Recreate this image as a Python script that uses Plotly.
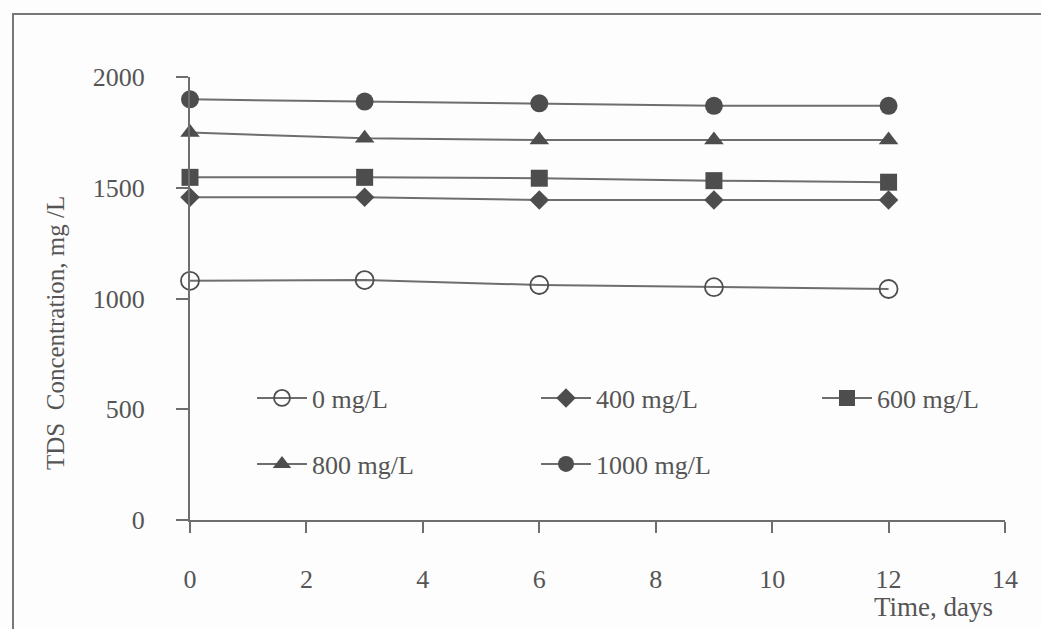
import plotly.graph_objects as go

days = [0, 3, 6, 9, 12]
series_names = ["0 mg/L", "400 mg/L", "600 mg/L", "800 mg/L", "1000 mg/L"]
tds_0 = [1080, 1083, 1061, 1051, 1043]
tds_400 = [1457, 1457, 1445, 1445, 1445]
tds_600 = [1547, 1547, 1543, 1532, 1525]
tds_800 = [1749, 1723, 1716, 1716, 1716]
tds_1000 = [1899, 1889, 1881, 1870, 1870]
x_ticks = [0, 2, 4, 6, 8, 10, 12, 14]
y_ticks = [0, 500, 1000, 1500, 2000]

FONT = "Liberation Serif"
TXT = "#555555"
LINE = "#6e6e6e"
MK = "#4d4d4d"

W, H = 1041, 629
L, R, T, B = 190, 36, 77, 109
PW, PH = W - L - R, H - T - B


def px(x):
    return (x - L) / PW


def py(y):
    return (H - B - y) / PH


specs = [
    (tds_0, dict(symbol="circle-open", size=18, color=MK, line=dict(width=1.8, color=MK)), "legend"),
    (tds_400, dict(symbol="diamond", size=15, color=MK), "legend2"),
    (tds_600, dict(symbol="square", size=17, color=MK), "legend3"),
    (tds_800, dict(symbol="triangle-up", size=17, color=MK), "legend4"),
    (tds_1000, dict(symbol="circle", size=18, color=MK), "legend5"),
]

fig = go.Figure()
for name, (vals, marker, lg) in zip(series_names, specs):
    fig.add_trace(go.Scatter(
        x=days, y=vals, name=name, mode="lines+markers",
        line=dict(color=LINE, width=2), marker=marker, legend=lg,
        cliponaxis=False,
    ))

leg_common = dict(
    font=dict(family=FONT, size=26, color=TXT),
    bgcolor="rgba(0,0,0,0)", borderwidth=0,
    xanchor="left", yanchor="middle", itemwidth=50,
)
leg_pos = {
    "legend": (252, 398),
    "legend2": (536, 398),
    "legend3": (817, 398),
    "legend4": (252, 464),
    "legend5": (536, 464),
}
layout_legends = {k: dict(x=px(v[0]), y=py(v[1]), **leg_common) for k, v in leg_pos.items()}

fig.update_layout(
    width=W, height=H,
    margin=dict(l=L, r=R, t=T, b=B),
    paper_bgcolor="#fdfdfd", plot_bgcolor="#fdfdfd",
    font=dict(family=FONT, size=26, color=TXT),
    showlegend=True,
    **layout_legends,
    xaxis=dict(
        range=[0, 14], tickvals=x_ticks, ticktext=[str(v) for v in x_ticks],
        showgrid=False, zeroline=False, showline=True, linecolor=LINE, linewidth=2,
        ticks="outside", ticklen=11, tickwidth=2, tickcolor=LINE,
        ticklabelstandoff=24, tickfont=dict(family=FONT, size=26, color=TXT),
    ),
    yaxis=dict(
        range=[0, 2000], tickvals=y_ticks, ticktext=[str(v) for v in y_ticks],
        showgrid=False, zeroline=False, showline=True, linecolor=LINE, linewidth=2,
        ticks="outside", ticklen=12, tickwidth=2, tickcolor=LINE,
        ticklabelstandoff=26, tickfont=dict(family=FONT, size=26, color=TXT),
    ),
    annotations=[
        dict(text="TDS  Concentration, mg /L", xref="paper", yref="paper",
             x=px(55), y=py(333), textangle=-90, showarrow=False,
             font=dict(family=FONT, size=25, color=TXT), xanchor="center", yanchor="middle"),
        dict(text="Time, days", xref="paper", yref="paper",
             x=px(995), y=py(607), showarrow=False,
             font=dict(family=FONT, size=27, color=TXT), xanchor="right", yanchor="middle"),
    ],
    shapes=[
        dict(type="rect", xref="paper", yref="paper",
             x0=px(13), y0=py(700), x1=px(1100), y1=py(14),
             line=dict(color="#777777", width=2), fillcolor="rgba(0,0,0,0)", layer="below"),
    ],
)

fig.write_html("out.html")
